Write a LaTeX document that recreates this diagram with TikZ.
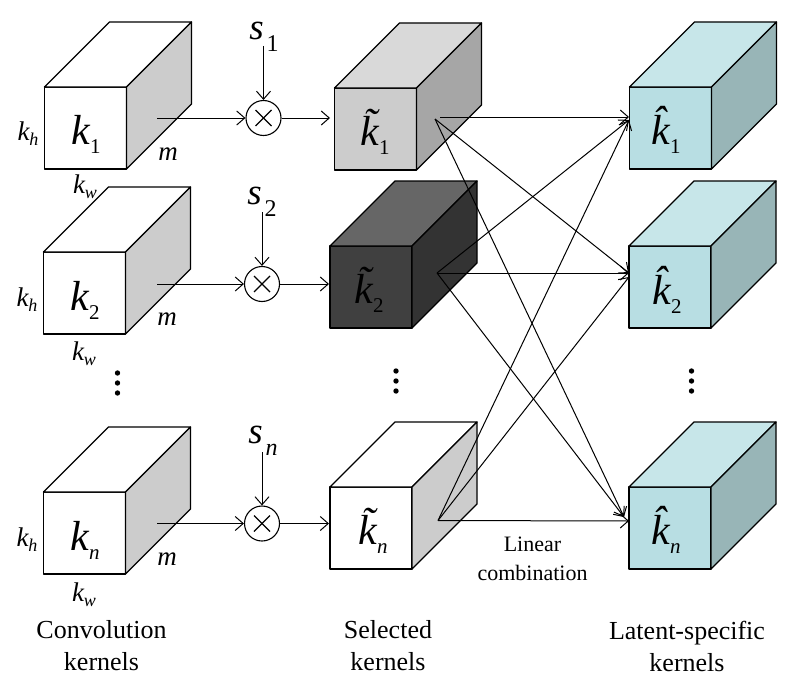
\documentclass[tikz,border=0pt]{standalone}
\usepackage{fontspec}
\setmainfont{Liberation Serif}
\usepackage{tikz}
\usetikzlibrary{calc}
\usetikzlibrary{arrows.meta}

\definecolor{tealfront}{HTML}{B8DEE3}
\definecolor{tealtop}{HTML}{C7E6E9}
\definecolor{tealside}{HTML}{98B5B7}

% size of the big kernel letters, then the small side labels
\newcommand{\bigk}[2]{{\fontsize{42}{42}\selectfont\itshape #1}\raisebox{-9pt}{\fontsize{21}{21}\selectfont #2}}
\newcommand{\smallk}[1]{{\fontsize{27}{27}\selectfont\itshape k}\raisebox{-5pt}{\fontsize{18}{18}\selectfont\itshape #1}}
\newcommand{\weight}[1]{{\fontsize{37}{37}\selectfont\itshape s}\hspace{3pt}\raisebox{-12pt}{\fontsize{24}{24}\selectfont #1}}

\tikzset{
    cubeline/.style={line width=1.3pt,line join=round},
    flow/.style={line width=1pt,-{Straight Barb[length=8pt,width=14pt,line width=1pt]}},
    mult/.style={circle,draw,line width=1.1pt,fill=white,minimum size=35pt,inner sep=0pt},
    caption/.style={align=center,font=\fontsize{26}{32}\selectfont,inner sep=0pt},
    sidelabel/.style={inner sep=0pt}
}

\begin{document}
\begin{tikzpicture}[x=1pt,y=-1pt]
            \useasboundingbox (0,0) rectangle (789,693);

            % Define the size of a cube
            \def\w{82}  % width of front face
            \def\d{65}  % depth offset of the cube

            % Draw the cubes, x and y are the top left of the front face
            \foreach \x/\y/\ff/\ft/\fs in {
                44.5/87/white/white/black!20,
                43.5/252/white/white/black!20,
                43.5/492/white/white/black!20,
                334.5/88/black!20/black!15/black!35,
                330/246/black!75/black!60/black!80,
                330/487/white/white/black!20,
                629.5/87/tealfront/tealtop/tealside,
                629/246/tealfront/tealtop/tealside,
                629/487/tealfront/tealtop/tealside}{
                \draw[cubeline,fill=\ff] (\x,\y) rectangle ++(\w,\w);
                \draw[cubeline,fill=\ft] (\x,\y) -- ++(\d,-\d) -- ++(\w,0) -- ++(-\d,\d) -- cycle;
                \draw[cubeline,fill=\fs] (\x+\w,\y) -- ++(\d,-\d) -- ++(0,\w) -- ++(-\d,\d) -- cycle;
            }

            % Multipliers
            \node[mult] (M1) at (263.5,118) {};
            \node[mult] (M2) at (262,284) {};
            \node[mult] (Mn) at (262,523.5) {};
            \foreach \m in {M1,M2,Mn}{
                \draw[line width=1.2pt] ($(\m)+(-8,-8)$) -- ($(\m)+(8,8)$);
                \draw[line width=1.2pt] ($(\m)+(-8,8)$) -- ($(\m)+(8,-8)$);
            }

            % Ends of the arrows
            \coordinate (A1) at (157,118);
            \coordinate (A2) at (157,284);
            \coordinate (An) at (157,523.5);
            \coordinate (B1) at (330,118);
            \coordinate (B2) at (329,284);
            \coordinate (Bn) at (329,523.5);
            \coordinate (S1) at (263.5,46);
            \coordinate (S2) at (262,212);
            \coordinate (Sn) at (262,452);

            \foreach \r in {1,2,n}{
                \draw[flow] (A\r) -- (M\r);
                \draw[flow] (M\r) -- (B\r);
                \draw[flow] (S\r) -- (M\r);
            }

            % Linear combination
            \coordinate (P1) at (440,117);
            \coordinate (Q1) at (435,119);
            \coordinate (P2) at (437,273);
            \coordinate (Pn) at (438,520.5);
            \coordinate (T1) at (629,117);
            \coordinate (U1) at (629,120);
            \coordinate (T2) at (629,273);
            \coordinate (U2) at (629,277);
            \coordinate (Tn) at (629,521);
            \coordinate (Un) at (624,517);
            \draw[flow] (P1) -- (T1);
            \draw[flow] (Q1) -- (T2);
            \draw[flow] (Q1) -- (Un);
            \draw[flow] (P2) -- (U1);
            \draw[flow] (P2) -- (T2);
            \draw[flow] (P2) -- (Un);
            \draw[flow] (Pn) -- (U1);
            \draw[flow] (Pn) -- (U2);
            \draw[flow] (Pn) -- (Tn);

            % Kernel labels
            \node[sidelabel] (K1) at (86,134) {\bigk{k}{1}};
            \node[sidelabel] (K2) at (85,300) {\bigk{k}{2}};
            \node[sidelabel] (Kn) at (85,540) {\bigk{k}{\textit{n}}};
            \node[sidelabel] (Kt1) at (375,132) {\bigk{\~k}{1}};
            \node[sidelabel] (Kt2) at (369,290) {\bigk{\~k}{2}};
            \node[sidelabel] (Ktn) at (373,531) {\bigk{\~k}{\textit{n}}};
            \node[sidelabel] (Kh1) at (666,130) {\bigk{\^k}{1}};
            \node[sidelabel] (Kh2) at (667,290) {\bigk{\^k}{2}};
            \node[sidelabel] (Khn) at (666,530) {\bigk{\^k}{\textit{n}}};

            % Weights
            \node[sidelabel] (W1) at (264,37) {\weight{1}};
            \node[sidelabel] (W2) at (262,202) {\weight{2}};
            \node[sidelabel] (Wn) at (263,441) {\weight{\textit{n}}};

            % Sizes of the convolution kernels
            \node[sidelabel] (H1) at (28,134) {\smallk{h}};
            \node[sidelabel] (H2) at (27,300) {\smallk{h}};
            \node[sidelabel] (Hn) at (27,540) {\smallk{h}};
            \node[sidelabel] (D1) at (85,187) {\smallk{w}};
            \node[sidelabel] (D2) at (84,354) {\smallk{w}};
            \node[sidelabel] (Dn) at (84,595) {\smallk{w}};
            \node[sidelabel,font=\fontsize{27}{27}\selectfont\itshape] (H1m) at (168,154) {m};
            \node[sidelabel,font=\fontsize{27}{27}\selectfont\itshape] (H2m) at (167,319) {m};
            \node[sidelabel,font=\fontsize{27}{27}\selectfont\itshape] (Hnm) at (167,559) {m};

            % Dots
            \foreach \x/\y in {117.5/373,396/371,691.5/371}{
                \fill (\x,\y) circle (2.7);
                \fill (\x,\y+10) circle (2.7);
                \fill (\x,\y+20) circle (2.7);
            }

            % Captions
            \node[caption] (Conv) at (101.5,646) {Convolution\\kernels};
            \node[caption] (Sel) at (388,646) {Selected\\kernels};
            \node[caption] (Lat) at (687,646) {Latent-specific\\kernels};
            \node[caption,font=\fontsize{22}{28.5}\selectfont] (Lin) at (532.5,559) {Linear\\combination};
\end{tikzpicture}
\end{document}
